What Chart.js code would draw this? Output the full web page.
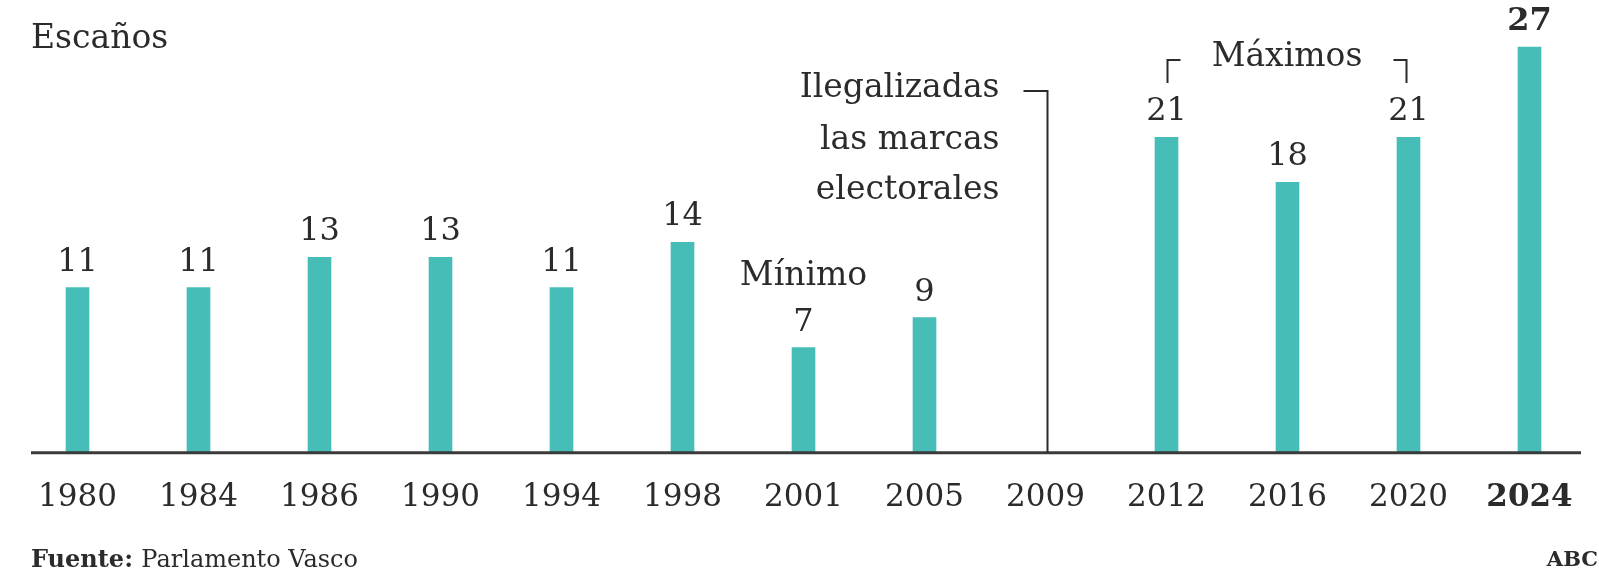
<!DOCTYPE html>
<html>
<head>
<meta charset="utf-8">
<script src="https://cdn.jsdelivr.net/npm/chart.js@4"></script>
<style>
  html, body { margin: 0; padding: 0; background: #fff; }
  #wrap { width: 1599px; height: 576px; }
</style>
</head>
<body>
<div id="wrap"><canvas id="escanos_data"></canvas></div>
<script>
// escaños por año
const years = ['1980', '1984', '1986', '1990', '1994', '1998', '2001', '2005', '2009', '2012', '2016', '2020', '2024'];
const seats = [11, 11, 13, 13, 11, 14, 7, 9, null, 21, 18, 21, 27];

const serif = "'DejaVu Serif', 'Liberation Serif', serif";
const inkColor = '#2b2b2b';
const barColor = '#47bdb8';

const labelsPlugin = {
    id: 'labels',
    afterDatasetsDraw(chart) {
        const ctx = chart.ctx;
        const xs = chart.scales.x;
        const area = chart.chartArea;
        const meta = chart.getDatasetMeta(0);
        ctx.save();

        // axis line
        ctx.strokeStyle = '#3a3a3a';
        ctx.lineWidth = 3;
        ctx.beginPath();
        ctx.moveTo(31, area.bottom);
        ctx.lineTo(1581, area.bottom);
        ctx.stroke();

        // values above bars
        ctx.fillStyle = inkColor;
        ctx.textAlign = 'center';
        ctx.textBaseline = 'alphabetic';
        meta.data.forEach(function(bar, i) {
            if (seats[i] === null) return;
            const last = i === seats.length - 1;
            ctx.font = (last ? 'bold ' : '') + '32px ' + serif;
            ctx.fillText(String(seats[i]), bar.x, bar.y - 17);
        });

        // Escaños
        ctx.textAlign = 'left';
        ctx.textBaseline = 'middle';
        ctx.font = '33px ' + serif;
        ctx.fillText('Escaños', 31, 39);

        // Mínimo
        ctx.textAlign = 'center';
        ctx.fillText('Mínimo', xs.getPixelForValue(6), 276);

        // Ilegalizadas...
        const x09 = xs.getPixelForValue(8) + 2;
        ctx.textAlign = 'right';
        ctx.fillText('Ilegalizadas', x09 - 48, 88);
        ctx.fillText('las marcas', x09 - 48, 140);
        ctx.fillText('electorales', x09 - 48, 190);
        ctx.strokeStyle = inkColor;
        ctx.lineWidth = 2;
        ctx.beginPath();
        ctx.moveTo(x09 - 24, 91);
        ctx.lineTo(x09, 91);
        ctx.lineTo(x09, area.bottom);
        ctx.stroke();

        // Máximos
        const x12 = xs.getPixelForValue(9) + 1;
        const x20 = xs.getPixelForValue(11) - 2;
        ctx.textAlign = 'center';
        ctx.fillText('Máximos', (x12 + x20) / 2, 57);
        ctx.beginPath();
        ctx.moveTo(x12, 83);
        ctx.lineTo(x12, 60);
        ctx.lineTo(x12 + 13, 60);
        ctx.moveTo(x20 - 13, 60);
        ctx.lineTo(x20, 60);
        ctx.lineTo(x20, 83);
        ctx.stroke();

        // footer
        ctx.textAlign = 'left';
        ctx.font = 'bold 24px ' + serif;
        ctx.fillText('Fuente:', 31, 561);
        const w = ctx.measureText('Fuente: ').width;
        ctx.font = '24px ' + serif;
        ctx.fillText('Parlamento Vasco', 31 + w, 561);
        ctx.textAlign = 'right';
        ctx.font = 'bold 21px ' + serif;
        ctx.fillText('ABC', 1598, 561);

        ctx.restore();
    }
};

const dt = {
    labels: years,
    datasets: [
    {
        label: 'Escaños',
        data: seats,
        backgroundColor: barColor,
        borderWidth: 0,
        barThickness: 23
    }
    ]
};

const config_escanos = {
    type: 'bar',
    data: dt,
    options: {
        responsive: true,
        maintainAspectRatio: false,
        animation: false,
        layout: { padding: { left: 17, right: 9, top: 2, bottom: 40 } },
        plugins: {
            legend: { display: false },
            tooltip: { enabled: false }
        },
        scales: {
            x: {
                grid: { display: false },
                border: { display: false },
                ticks: {
                    padding: 19,
                    maxRotation: 0,
                    autoSkip: false,
                    color: inkColor,
                    font: function(c) {
                        return { family: serif, size: 31, lineHeight: 1.2, weight: c.index === years.length - 1 ? 'bold' : 'normal' };
                    }
                }
            },
            y: {
                display: false,
                min: 0,
                max: 30
            }
        }
    },
    plugins: [labelsPlugin]
};

const escanos_data = new Chart(
    document.getElementById('escanos_data'),
    config_escanos
);
</script>
</body>
</html>
